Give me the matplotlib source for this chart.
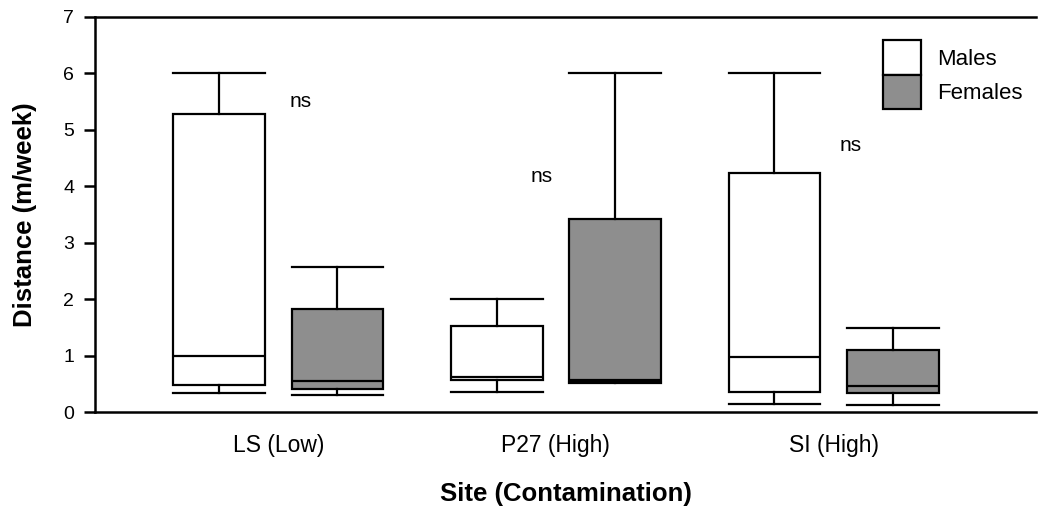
import matplotlib.pyplot as plt
from matplotlib.patches import Patch

plt.rcParams['font.family'] = ['Liberation Sans', 'DejaVu Sans']

sites = ['LS (Low)', 'P27 (High)', 'SI (High)']
# whisker low, Q1, median, Q3, whisker high (m/week)
males_lo = [0.33, 0.35, 0.14]
males_q1 = [0.48, 0.57, 0.35]
males_med = [1.0, 0.62, 0.98]
males_q3 = [5.27, 1.52, 4.24]
males_hi = [6.0, 2.0, 6.0]
females_lo = [0.3, 0.52, 0.12]
females_q1 = [0.4, 0.55, 0.34]
females_med = [0.55, 0.57, 0.46]
females_q3 = [1.83, 3.42, 1.1]
females_hi = [2.57, 6.0, 1.48]
ns_x = [1.08, 1.95, 3.06]
ns_y = [5.5, 4.17, 4.72]


def stats(lo, q1, med, q3, hi):
    return [dict(whislo=a, q1=b, med=c, q3=d, whishi=e, fliers=[])
            for a, b, c, d, e in zip(lo, q1, med, q3, hi)]


fig = plt.figure(figsize=(10.39, 5.14), dpi=100)
ax = fig.add_axes([0.0914, 0.1984, 0.906, 0.769])

pos = [1, 2, 3]
w = 0.33
off = 0.213
lw = 1.6
common = dict(widths=w, patch_artist=True, showfliers=False,
              whiskerprops=dict(color='black', lw=lw),
              capprops=dict(color='black', lw=lw),
              medianprops=dict(color='black', lw=lw),
              capwidths=w)
ax.bxp(stats(males_lo, males_q1, males_med, males_q3, males_hi),
       positions=[p - off for p in pos],
       boxprops=dict(facecolor='white', edgecolor='black', lw=lw), **common)
ax.bxp(stats(females_lo, females_q1, females_med, females_q3, females_hi),
       positions=[p + off for p in pos],
       boxprops=dict(facecolor='#8e8e8e', edgecolor='black', lw=lw), **common)

for x, y in zip(ns_x, ns_y):
    ax.text(x, y, 'ns', fontsize=15, ha='center', va='center')

ax.set_xlim(0.34, 3.73)
ax.set_ylim(0, 7)
ax.set_yticks(range(8))
ax.set_xticks(pos)
ax.set_xticklabels(sites, fontsize=16.5)
ax.tick_params(axis='x', length=0, pad=16)
ax.tick_params(axis='y', length=8, width=1.8, labelsize=14, pad=7)
for s in ['left', 'bottom', 'top']:
    ax.spines[s].set_linewidth(1.8)
ax.spines['right'].set_visible(False)

ax.set_ylabel('Distance (m/week)', fontsize=18.5, fontweight='bold')
ax.set_xlabel('Site (Contamination)', fontsize=18.5, fontweight='bold')
ax.yaxis.set_label_coords(-0.0744, 0.5)
ax.xaxis.set_label_coords(0.5, -0.2076)
ax.xaxis.label.set_va('center')
ax.yaxis.label.set_va('center')

handles = [Patch(facecolor='white', edgecolor='black', lw=lw, label='Males'),
           Patch(facecolor='#8e8e8e', edgecolor='black', lw=lw, label='Females')]
ax.legend(handles=handles, loc='upper left', bbox_to_anchor=(0.818, 0.985),
          frameon=False, fontsize=16, handlelength=1.7, handleheight=2.0,
          labelspacing=0.0, handletextpad=0.75, borderpad=0.3)

fig.savefig('out.png', dpi=100)
